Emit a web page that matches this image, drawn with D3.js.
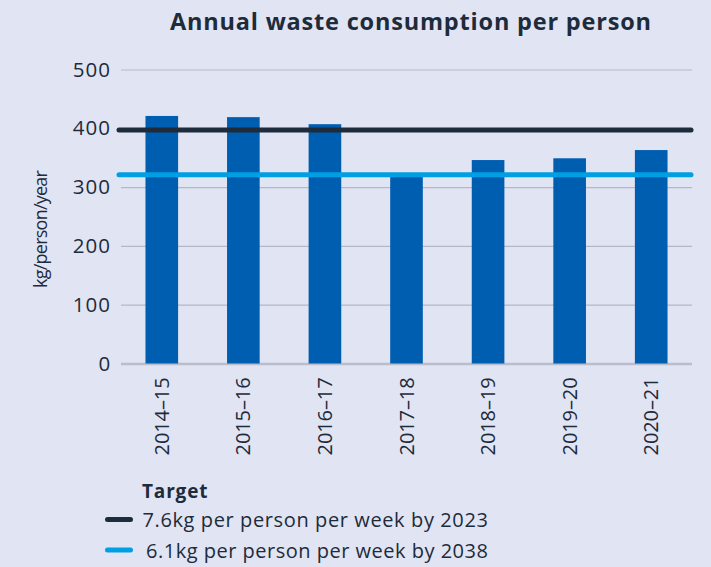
<!DOCTYPE html>
<html><head><meta charset="utf-8">
<script src="https://cdn.jsdelivr.net/npm/d3@7"></script>
<style>
html,body{margin:0;padding:0;background:#e1e4f3;}
svg{display:block;font-family:"Open Sans",Lato,sans-serif;}
</style></head>
<body>
<div id="chart"></div>
<script>
const categories = ["2014–15","2015–16","2016–17","2017–18","2018–19","2019–20","2020–21"];
const values = [421, 419, 407, 322, 346, 349, 363];
const targetValues = [397, 321];
const targetLabels = ["7.6kg per person per week by 2023","6.1kg per person per week by 2038"];
const targetColors = ["#1d2b3b","#009fe3"];
const yTicks = [0,100,200,300,400,500];

(function(){
const W = 711, H = 567;
const FONT = "'Open Sans',Lato,sans-serif";
const svg = d3.select("#chart").append("svg").attr("width",W).attr("height",H);
svg.append("rect").attr("width",W).attr("height",H).attr("fill","#e1e4f3");

function fit(sel, target){
  sel.each(function(){
    const n = this.textContent.length;
    const len = this.getComputedTextLength();
    const ls = (target - len) / Math.max(1, n - 1);
    d3.select(this).attr("letter-spacing", ls.toFixed(2));
  });
}

const mLeft = 121, mRight = 692, mTop = 69.5, mBottom = 363.5;
const x = d3.scaleBand().domain(categories).range([mLeft,mRight]).paddingInner(0.6).paddingOuter(0.3);
const y = d3.scaleLinear().domain([0,500]).range([mBottom,mTop]);
const textColor = "#1d2b3b";

const title = svg.append("text").attr("x",170).attr("y",30)
  .attr("font-size",23.5).attr("font-weight",700).attr("fill",textColor)
  .attr("font-family",FONT)
  .text("Annual waste consumption per person");
fit(title, 481);

// grid
const yAxis = d3.axisLeft(y).tickValues(yTicks).tickSize(-(mRight-mLeft)).tickPadding(10);
const gy = svg.append("g").attr("transform",`translate(${mLeft},0)`).call(yAxis);
gy.select(".domain").remove();
gy.selectAll(".tick line").attr("stroke","#b3b7c8").attr("stroke-width",1.2);
gy.selectAll(".tick text").attr("font-size",20.5).attr("fill",textColor).attr("font-family",FONT);
gy.selectAll(".tick").filter(d=>d===0).select("line").attr("stroke","#b9bdcc").attr("stroke-width",2.5);
gy.selectAll(".tick text").each(function(){ fit(d3.select(this), this.textContent.length*12.4); });

// bars
svg.append("g").selectAll("rect").data(values).join("rect")
  .attr("x",(d,i)=>x(categories[i])).attr("width",x.bandwidth())
  .attr("y",d=>y(d)).attr("height",d=>mBottom-y(d))
  .attr("fill","#005eb0");

// x axis labels
const xAxis = d3.axisBottom(x).tickSize(0).tickPadding(0);
const gx = svg.append("g").attr("transform",`translate(0,${mBottom})`).call(xAxis);
gx.select(".domain").remove();
gx.selectAll(".tick text").attr("font-size",20).attr("fill",textColor)
  .attr("font-family",FONT)
  .attr("text-anchor","end").attr("dy","0.35em")
  .attr("transform","translate(0,14) rotate(-90)");
gx.selectAll(".tick text").each(function(){ fit(d3.select(this), 78); });

// target lines
svg.append("g").selectAll("line").data(targetValues).join("line")
  .attr("x1",mLeft-2).attr("x2",mRight-1)
  .attr("y1",d=>y(d)).attr("y2",d=>y(d))
  .attr("stroke",(d,i)=>targetColors[i]).attr("stroke-width",5).attr("stroke-linecap","round");

// y axis title
const yt = svg.append("text").attr("transform","translate(47,288) rotate(-90)")
  .attr("text-anchor","start").attr("font-size",18).attr("fill",textColor)
  .attr("font-family",FONT)
  .text("kg/person/year");
fit(yt, 118);

// legend
const lt = svg.append("text").attr("x",142).attr("y",498).attr("font-size",19).attr("font-weight",700)
  .attr("fill",textColor).attr("font-family",FONT).text("Target");
fit(lt, 65.5);
const lg = svg.append("g").selectAll("g").data(targetLabels).join("g")
  .attr("transform",(d,i)=>`translate(0,${519.5+i*30.5})`);
lg.append("line").attr("x1",107.5).attr("x2",130.5).attr("y1",0).attr("y2",0)
  .attr("stroke",(d,i)=>targetColors[i]).attr("stroke-width",5).attr("stroke-linecap","round");
const ltx = lg.append("text").attr("x",(d,i)=>i===0?142.5:146).attr("y",7.5)
  .attr("font-size",20).attr("fill",textColor).attr("font-family",FONT).text(d=>d);
ltx.each(function(d,i){ fit(d3.select(this), i===0?345.5:342); });
})();
</script>
</body></html>
